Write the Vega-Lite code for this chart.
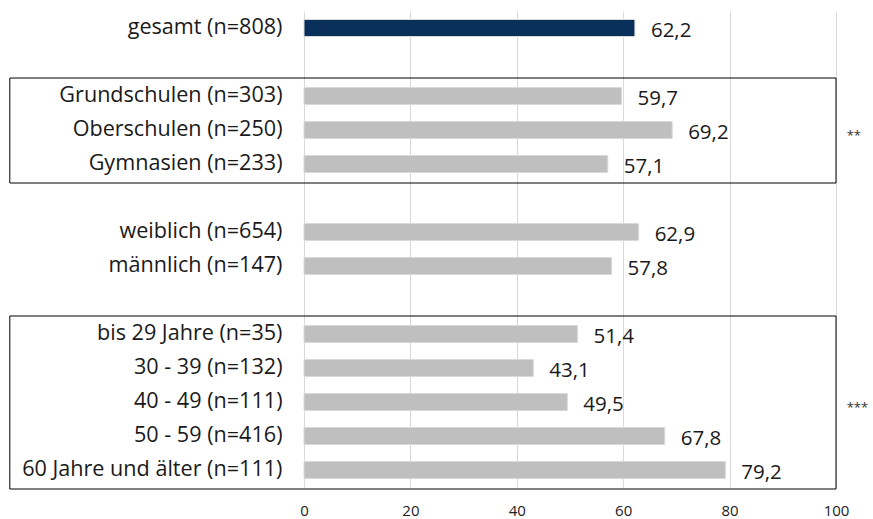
{
  "$schema": "https://vega.github.io/schema/vega-lite/v6.json",
  "width": 532,
  "height": 476,
  "autosize": {"type": "none"},
  "padding": {"left": 304, "top": 11, "right": 37, "bottom": 32},
  "config": {
    "font": "Open Sans",
    "view": {"stroke": null},
    "locale": {
      "number": {"decimal": ",", "thousands": ".", "grouping": [3], "currency": ["", " €"]}
    }
  },
  "datasets": {
    "werte": [
      {"kategorie": "gesamt (n=808)", "anteil": 62.2, "gesamt": true},
      {"kategorie": "Grundschulen (n=303)", "anteil": 59.7, "gesamt": false},
      {"kategorie": "Oberschulen (n=250)", "anteil": 69.2, "gesamt": false},
      {"kategorie": "Gymnasien (n=233)", "anteil": 57.1, "gesamt": false},
      {"kategorie": "weiblich (n=654)", "anteil": 62.9, "gesamt": false},
      {"kategorie": "männlich (n=147)", "anteil": 57.8, "gesamt": false},
      {"kategorie": "bis 29 Jahre (n=35)", "anteil": 51.4, "gesamt": false},
      {"kategorie": "30 - 39 (n=132)", "anteil": 43.1, "gesamt": false},
      {"kategorie": "40 - 49 (n=111)", "anteil": 49.5, "gesamt": false},
      {"kategorie": "50 - 59 (n=416)", "anteil": 67.8, "gesamt": false},
      {"kategorie": "60 Jahre und älter (n=111)", "anteil": 79.2, "gesamt": false}
    ],
    "gruppen": [
      {"von": "Grundschulen (n=303)", "bis": "Gymnasien (n=233)"},
      {"von": "bis 29 Jahre (n=35)", "bis": "60 Jahre und älter (n=111)"}
    ],
    "signifikanz": [
      {"kategorie": "Oberschulen (n=250)", "sterne": "**"},
      {"kategorie": "40 - 49 (n=111)", "sterne": "***"}
    ]
  },
  "encoding": {
    "y": {
      "field": "kategorie",
      "type": "nominal",
      "title": null,
      "scale": {
        "domain": [
          "gesamt (n=808)", " ",
          "Grundschulen (n=303)", "Oberschulen (n=250)", "Gymnasien (n=233)", "  ",
          "weiblich (n=654)", "männlich (n=147)", "   ",
          "bis 29 Jahre (n=35)", "30 - 39 (n=132)", "40 - 49 (n=111)", "50 - 59 (n=416)", "60 Jahre und älter (n=111)"
        ],
        "paddingInner": 0.5,
        "paddingOuter": 0.25
      },
      "axis": {
        "domain": false,
        "ticks": false,
        "grid": false,
        "labelFontSize": 21.6,
        "labelColor": "#1a1a1a",
        "labelPadding": 22,
        "labelLimit": 400
      }
    }
  },
  "layer": [
    {
      "data": {"name": "werte"},
      "mark": {"type": "bar", "stroke": "#d9d9d9", "strokeWidth": 1},
      "encoding": {
        "x": {
          "field": "anteil",
          "type": "quantitative",
          "title": null,
          "scale": {"domain": [0, 100], "nice": false},
          "axis": {
            "values": [0, 20, 40, 60, 80, 100],
            "domain": false,
            "ticks": false,
            "gridColor": "#d9d9d9",
            "labelFontSize": 15,
            "labelFlush": false,
            "labelColor": "#222222",
            "labelPadding": 16
          }
        },
        "color": {
          "condition": {"test": "datum.gesamt", "value": "#0b2f5b"},
          "value": "#bfbfbf"
        }
      }
    },
    {
      "data": {"name": "werte"},
      "mark": {"type": "text", "align": "left", "baseline": "middle", "dx": 16, "dy": 3, "fontSize": 20.5, "color": "#1a1a1a"},
      "encoding": {
        "x": {"field": "anteil", "type": "quantitative"},
        "text": {"field": "anteil", "type": "quantitative", "format": ".1f"}
      }
    },
    {
      "data": {"name": "gruppen"},
      "mark": {"type": "rect", "filled": false, "stroke": "#000000", "strokeWidth": 1, "yOffset": -18, "y2Offset": 19},
      "encoding": {
        "x": {"datum": -55.3, "type": "quantitative"},
        "x2": {"datum": 100},
        "y": {"field": "von", "type": "nominal", "bandPosition": 0.5},
        "y2": {"field": "bis", "bandPosition": 0.5}
      }
    },
    {
      "data": {"name": "signifikanz"},
      "mark": {"type": "text", "align": "left", "baseline": "middle", "dy": 6, "fontSize": 13, "color": "#333333"},
      "encoding": {
        "x": {"datum": 102, "type": "quantitative"},
        "text": {"field": "sterne", "type": "nominal"}
      }
    }
  ]
}
